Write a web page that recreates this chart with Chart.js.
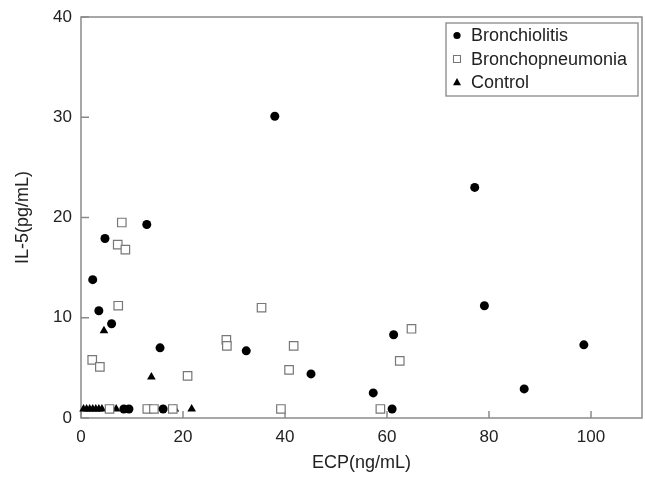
<!DOCTYPE html>
<html><head><meta charset="utf-8">
<script src="https://cdn.jsdelivr.net/npm/chart.js@4/dist/chart.umd.min.js"></script>
<style>html,body{margin:0;padding:0;background:#fff}#wrap{width:645px;height:482px;position:relative}</style>
</head><body><div id="wrap"><canvas id="c" width="645" height="482"></canvas></div>
<script>
const seriesNames = ['Bronchiolitis', 'Bronchopneumonia', 'Control'];
const bronchiolitisX = [38.0, 77.2, 12.9, 4.7, 2.3, 79.1, 3.5, 6.0, 61.3, 98.6, 15.5, 32.4, 45.1, 86.9, 57.3, 61.0, 8.4, 9.4, 16.1];
const bronchiolitisY = [30.1, 23.0, 19.3, 17.9, 13.8, 11.2, 10.7, 9.4, 8.3, 7.3, 7.0, 6.7, 4.4, 2.9, 2.5, 0.9, 0.9, 0.9, 0.9];
const bronchopneumoniaX = [8.0, 7.2, 8.7, 7.3, 35.4, 64.8, 28.5, 28.6, 41.7, 2.2, 62.5, 3.7, 40.8, 20.9, 39.2, 58.7, 5.6, 13.0, 14.3, 18.0];
const bronchopneumoniaY = [19.5, 17.3, 16.8, 11.2, 11.0, 8.9, 7.8, 7.2, 7.2, 5.8, 5.7, 5.1, 4.8, 4.2, 0.9, 0.9, 0.9, 0.9, 0.9, 0.9];
const controlX = [4.5, 13.8, 0.5, 1.1, 1.7, 2.3, 2.9, 3.5, 4.1, 6.9, 13.3, 18.4, 21.7];
const controlY = [8.7, 4.1, 0.9, 0.9, 0.9, 0.9, 0.9, 0.9, 0.9, 0.9, 0.9, 0.9, 0.9];
const xTicks = [0, 20, 40, 60, 80, 100];
const yTicks = [0, 10, 20, 30, 40];
const xTitle = 'ECP(ng/mL)';
const yTitle = 'IL-5(pg/mL)';

const pairs = (xs, ys) => xs.map((x, i) => ({x: x, y: ys[i]}));
const FONT = "'Liberation Sans', Arial, sans-serif";
const TEXT = '#222';
const AXIS = '#8a8a8a';

const styles = [
  {pointStyle: 'circle', pointRadius: 4.5, backgroundColor: '#000', borderColor: '#000', borderWidth: 0},
  {pointStyle: 'rect', pointRadius: 6, backgroundColor: '#fff', borderColor: '#777', borderWidth: 1.2},
  {pointStyle: 'triangle', pointRadius: 5, backgroundColor: '#000', borderColor: '#000', borderWidth: 0}
];
const dataSets = [pairs(bronchiolitisX, bronchiolitisY), pairs(bronchopneumoniaX, bronchopneumoniaY), pairs(controlX, controlY)];

function drawMarker(ctx, style, x, y, s) {
  ctx.save();
  ctx.beginPath();
  if (style === 'circle') {
    ctx.arc(x, y, s, 0, Math.PI * 2);
    ctx.fillStyle = '#000'; ctx.fill();
  } else if (style === 'rect') {
    ctx.rect(x - s, y - s, 2 * s, 2 * s);
    ctx.fillStyle = '#fff'; ctx.fill();
    ctx.lineWidth = 1.1; ctx.strokeStyle = '#777'; ctx.stroke();
  } else {
    ctx.moveTo(x, y - s * 1.1);
    ctx.lineTo(x + s, y + s * 0.7);
    ctx.lineTo(x - s, y + s * 0.7);
    ctx.closePath();
    ctx.fillStyle = '#000'; ctx.fill();
  }
  ctx.restore();
}

const framePlugin = {
  id: 'frame',
  beforeDatasetsDraw(chart) {
    const {ctx, chartArea: a, scales} = chart;
    ctx.save();
    ctx.strokeStyle = AXIS;
    ctx.lineWidth = 1.5;
    ctx.strokeRect(a.left, a.top, a.right - a.left, a.bottom - a.top);
    ctx.beginPath();
    xTicks.forEach(v => {
      const px = scales.x.getPixelForValue(v);
      ctx.moveTo(px, a.bottom); ctx.lineTo(px, a.bottom - 7);
    });
    yTicks.forEach(v => {
      const py = scales.y.getPixelForValue(v);
      ctx.moveTo(a.left, py); ctx.lineTo(a.left + 8, py);
    });
    ctx.stroke();
    ctx.restore();
  },
  afterDraw(chart) {
    const {ctx, chartArea: a} = chart;
    const right = a.right - 4, top = a.top + 6;
    const w = 192, h = 73;
    const left = right - w;
    ctx.save();
    ctx.fillStyle = '#fff';
    ctx.fillRect(left, top, w, h);
    ctx.strokeStyle = '#888';
    ctx.lineWidth = 1.3;
    ctx.strokeRect(left, top, w, h);
    ctx.font = '18px ' + FONT;
    ctx.fillStyle = TEXT;
    ctx.textBaseline = 'middle';
    seriesNames.forEach((name, i) => {
      const cy = top + 12.5 + i * 23.5;
      drawMarker(ctx, styles[i].pointStyle, left + 11, cy, i === 1 ? 3.5 : (i === 0 ? 3.6 : 4));
      ctx.fillText(name, left + 25, cy + 1);
    });
    ctx.restore();
  }
};

new Chart(document.getElementById('c'), {
  type: 'scatter',
  data: {
    datasets: seriesNames.map((name, i) => Object.assign({label: name, data: dataSets[i], showLine: false}, styles[i], {pointHoverRadius: styles[i].pointRadius}))
  },
  options: {
    responsive: false,
    animation: false,
    clip: false,
    layout: {autoPadding: false, padding: {top: 17, right: 3, left: 0, bottom: 0}},
    plugins: {legend: {display: false}, tooltip: {enabled: false}},
    scales: {
      x: {
        type: 'linear', min: 0, max: 110,
        afterBuildTicks: s => { s.ticks = xTicks.map(v => ({value: v})); },
        afterFit: s => { s.height = 64; s.paddingRight = 0; s.paddingLeft = 0; },
        grid: {display: false, drawTicks: false},
        border: {display: false},
        ticks: {color: TEXT, font: {family: FONT, size: 17}, padding: 9, maxRotation: 0},
        title: {display: true, text: xTitle, color: TEXT, font: {family: FONT, size: 18}, padding: {top: 0, bottom: 8}}
      },
      y: {
        type: 'linear', min: 0, max: 40,
        afterBuildTicks: s => { s.ticks = yTicks.map(v => ({value: v})); },
        afterFit: s => { s.width = 81; s.paddingTop = 0; s.paddingBottom = 0; },
        grid: {display: false, drawTicks: false},
        border: {display: false},
        ticks: {color: TEXT, font: {family: FONT, size: 17}, padding: 9},
        title: {display: true, text: yTitle, color: TEXT, font: {family: FONT, size: 18}, padding: {top: 12, bottom: 0}}
      }
    }
  },
  plugins: [framePlugin]
});
</script></body></html>
